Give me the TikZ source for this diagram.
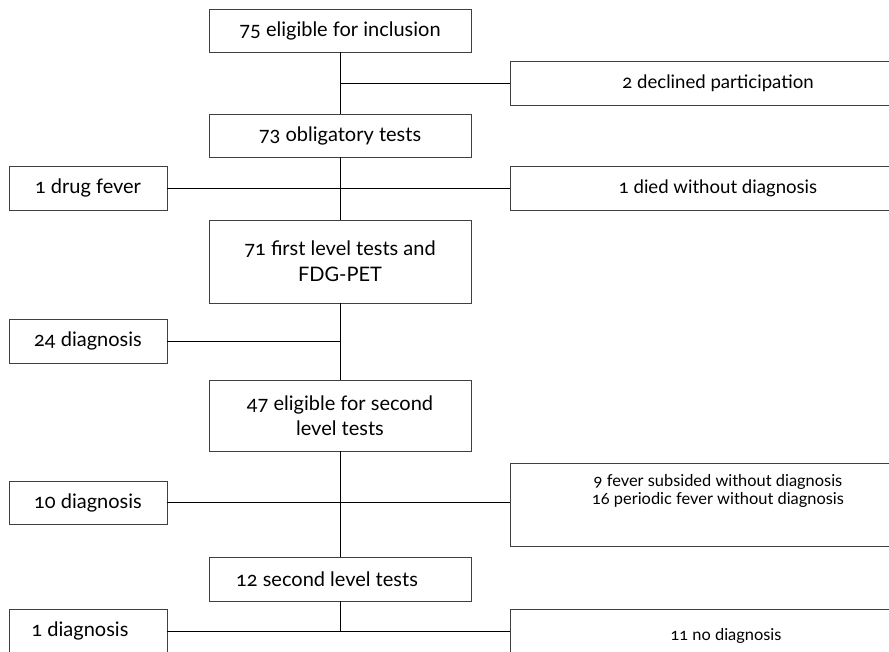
\documentclass[tikz,border=0pt]{standalone}
\usepackage{fontspec}
\setmainfont{Lato}[Numbers=OldStyle]
\begin{document}
\begin{tikzpicture}[x=1pt,y=-1pt,
  box/.style={draw=black!75, line width=0.8pt, inner sep=0pt, align=center,
    font=\fontsize{20}{18}\selectfont},
  cbox/.style={box, minimum width=262pt},
  lbox/.style={box, minimum width=158pt, minimum height=44pt},
  rbox/.style={box, minimum width=416pt, minimum height=44pt, font=\fontsize{18.6}{18}\selectfont},
  small/.style={font=\fontsize{16.4}{18}\selectfont},
  link/.style={draw=black, line width=0.8pt}]
\useasboundingbox (0,0) rectangle (889,651);
\clip (0,0) rectangle (889,651);
% centre column
\node[cbox, minimum height=43pt] (b1) at (340,30.5) {75 eligible for inclusion};
\node[cbox, minimum height=43pt] (b2) at (340,135.5) {73 obligatory tests};
\node[cbox, minimum height=83pt] (b3) at (340,261.5) {71 first level tests and\\[8pt]FDG-PET};
\node[cbox, minimum height=71pt] (b4) at (340,415.5) {47 eligible for second\\[6pt]level tests};
\node[cbox, minimum height=44pt] (b5) at (340,579) {12 second level tests\hspace*{26pt}};
% left boxes
\node[lbox] (l1) at (88,188) {1 drug fever};
\node[lbox] (l2) at (88,341) {24 diagnosis};
\node[lbox, minimum height=43pt] (l3) at (88,502.5) {10 diagnosis};
\node[lbox] (l4) at (88,631) {1 diagnosis\hspace*{16pt}};
% right boxes
\node[rbox] (r1) at (718,83) {2 declined participation};
\node[rbox] (r2) at (718,188) {1 died without diagnosis};
\node[rbox, small, minimum height=83pt] (r3) at (718,504.5)
  {\raisebox{0pt}[\height][\dimexpr\depth+26pt]{\begin{tabular}{@{}c@{}}9 fever subsided without diagnosis\\16 periodic fever without diagnosis\end{tabular}}};
\node[rbox, small] (r4) at (718,631) {\raisebox{0pt}[\dimexpr\height+9pt][\depth]{\hspace*{16pt}11 no diagnosis}};
% connectors
\draw[link] (b1) -- (b2);
\draw[link] (b2) -- (b3);
\draw[link] (b3) -- (b4);
\draw[link] (b4) -- (b5);
\draw[link] (b1.south |- r1.west) -- (r1.west);
\draw[link] (l1.east) -- (r2.west);
\draw[link] (l2.east) -- (l2.east -| b3.south);
\draw[link] (l3.east) -- (r3.west |- l3.east);
\coordinate (j) at (b5.south |- l4.east);
\draw[link] (b5.south) -- (j);
\draw[link] (l4.east) -- (r4.west |- l4.east);
\end{tikzpicture}
\end{document}
